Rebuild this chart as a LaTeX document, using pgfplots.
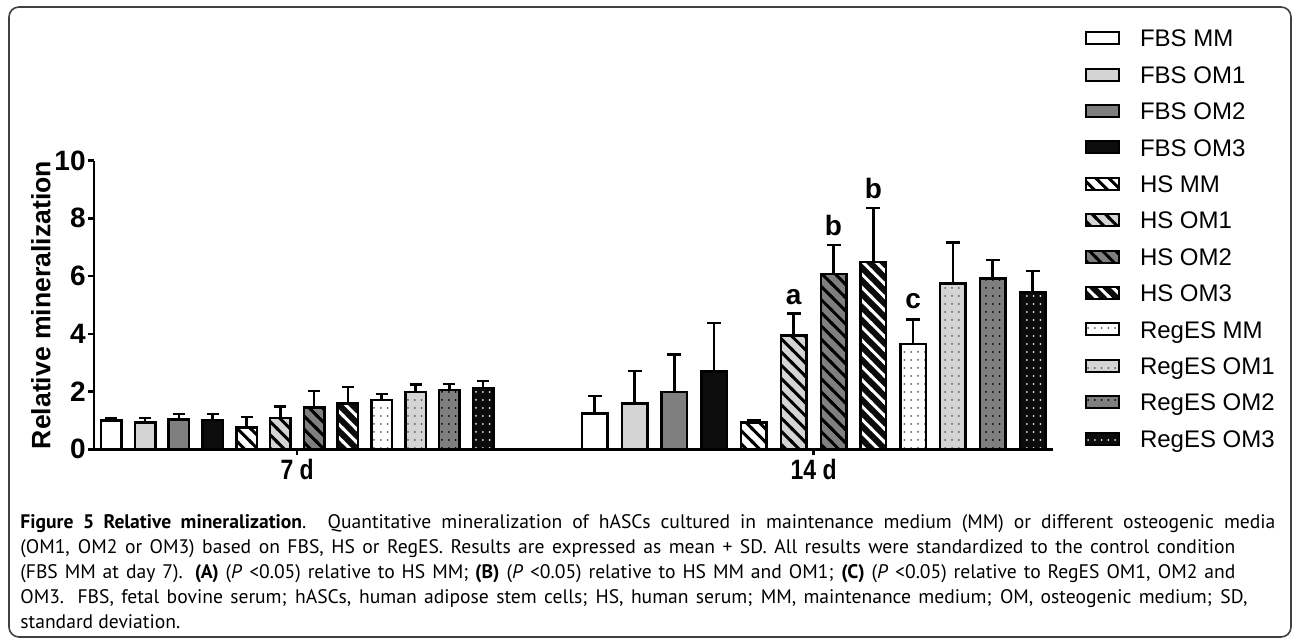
\documentclass[border=0pt]{standalone}
\usepackage{fontspec}
\setmainfont{Liberation Sans}
\newfontfamily\capfont{PT Sans}
\newfontfamily\narrowfont[FakeStretch=0.82]{Liberation Sans}
\usepackage{pgfplots}
\pgfplotsset{compat=1.18}
\usetikzlibrary{patterns}

\definecolor{lgray}{HTML}{D4D4D4}
\definecolor{mgray}{HTML}{7F7F7F}
\definecolor{dgray}{HTML}{0C0C0C}
\definecolor{dotgray}{HTML}{5A5A5A}
\definecolor{dotlight}{HTML}{E8E8E8}

% diagonal stripes, top left to bottom right
\pgfdeclarepatternformonly{hatch}{\pgfqpoint{-1pt}{-1pt}}{\pgfqpoint{7.6pt}{7.6pt}}{\pgfqpoint{6.6pt}{6.6pt}}{%
  \pgfsetlinewidth{1.5pt}%
  \pgfpathmoveto{\pgfqpoint{-1pt}{7.6pt}}%
  \pgfpathlineto{\pgfqpoint{7.6pt}{-1pt}}%
  \pgfusepath{stroke}}
% sparse dots
\pgfdeclarepatternformonly{regdots}{\pgfqpoint{-1pt}{-1pt}}{\pgfqpoint{1pt}{1pt}}{\pgfqpoint{3.4pt}{4pt}}{%
  \pgfpathcircle{\pgfqpoint{0pt}{0pt}}{0.5pt}%
  \pgfusepath{fill}}

\pgfplotsset{
  barbase/.style={ybar, bar shift=0pt, draw=black, line width=1.25pt},
  % second pass over a bar: pattern only
  over/.style 2 args={ybar, bar shift=0pt, forget plot, draw=black, line width=1.25pt,
    pattern=#1, pattern color=#2},
  fbsmm/.style={barbase, fill=white},
  fbsom1/.style={barbase, fill=lgray},
  fbsom2/.style={barbase, fill=mgray},
  fbsom3/.style={barbase, fill=dgray},
  w7/.style={bar width=20.5},
  w14/.style={bar width=25.5},
  d7/.style={w7, error bars/.cd, y dir=plus, y explicit,
    error bar style={line width=1.25pt, black},
    error mark options={rotate=90, mark size=3pt, line width=1.25pt, black}},
  d14/.style={w14, error bars/.cd, y dir=plus, y explicit,
    error bar style={line width=1.25pt, black},
    error mark options={rotate=90, mark size=3.5pt, line width=1.25pt, black}},
  % legend swatches as short horizontal bars
  lbase/.style={xbar, bar shift=0pt, bar width=6pt, draw=black, line width=1pt},
  lover/.style 2 args={xbar, bar shift=0pt, bar width=6pt, draw=black, line width=1pt,
    pattern=#1, pattern color=#2},
}

\begin{document}
\begin{tikzpicture}
\useasboundingbox (0,0) rectangle (647.5pt,320pt);
\draw[rounded corners=5pt, line width=0.8pt, black!75] (4.5pt,1.5pt) rectangle (645.5pt,316.5pt);

\begin{axis}[
  at={(47pt,95.35pt)}, anchor=south west,
  scale only axis, width=479.5pt, height=144.35pt,
  xmin=94, xmax=1053, ymin=0, ymax=10,
  clip=false,
  axis lines*=left, axis line style={-, line width=1.25pt, black},
  tick style={line width=1.25pt, black},
  tick align=outside, major tick length=3pt,
  ytick={0,2,4,6,8,10},
  xtick={297.2,813.6}, xticklabels={7 d,14 d},
  /pgf/number format/assume math mode=true,
  yticklabel style={font=\bfseries\fontsize{14}{14}\selectfont, inner sep=1pt},
  xticklabel style={font=\narrowfont\bfseries\fontsize{14}{14}\selectfont, inner sep=2pt},
  ylabel={Relative mineralization},
  every axis y label/.style={at={(axis description cs:-0.0553,0.5)}, rotate=90, anchor=center,
    font=\bfseries\fontsize{13.3}{13.3}\selectfont},
]
% day 7
\addplot[fbsmm, d7] coordinates {(111.3,1.00) +- (0,0.08)};
\addplot[fbsom1, d7] coordinates {(145.1,0.93) +- (0,0.15)};
\addplot[fbsom2, d7] coordinates {(178.9,1.04) +- (0,0.18)};
\addplot[fbsom3, d7] coordinates {(212.7,1.01) +- (0,0.21)};
\addplot[fbsmm, d7] coordinates {(246.5,0.75) +- (0,0.37)};
\addplot[fbsom1, d7] coordinates {(280.3,1.08) +- (0,0.40)};
\addplot[fbsom2, d7] coordinates {(314.1,1.45) +- (0,0.57)};
\addplot[fbsom3, d7] coordinates {(347.9,1.59) +- (0,0.56)};
\addplot[fbsmm, d7] coordinates {(381.7,1.70) +- (0,0.21)};
\addplot[fbsom1, d7] coordinates {(415.5,1.99) +- (0,0.25)};
\addplot[fbsom2, d7] coordinates {(449.3,2.06) +- (0,0.21)};
\addplot[fbsom3, d7] coordinates {(483.1,2.13) +- (0,0.24)};
% day 14
\addplot[fbsmm, d14] coordinates {(594.7,1.24) +- (0,0.60)};
\addplot[fbsom1, d14] coordinates {(634.5,1.58) +- (0,1.13)};
\addplot[fbsom2, d14] coordinates {(674.3,1.98) +- (0,1.30)};
\addplot[fbsom3, d14] coordinates {(714.1,2.70) +- (0,1.68)};
\addplot[fbsmm, d14] coordinates {(753.9,0.92) +- (0,0.10)};
\addplot[fbsom1, d14] coordinates {(793.7,3.94) +- (0,0.77)};
\addplot[fbsom2, d14] coordinates {(833.5,6.08) +- (0,1.00)};
\addplot[fbsom3, d14] coordinates {(873.3,6.49) +- (0,1.87)};
\addplot[fbsmm, d14] coordinates {(913.1,3.65) +- (0,0.85)};
\addplot[fbsom1, d14] coordinates {(952.9,5.74) +- (0,1.42)};
\addplot[fbsom2, d14] coordinates {(992.7,5.92) +- (0,0.63)};
\addplot[fbsom3, d14] coordinates {(1032.5,5.43) +- (0,0.74)};

% pattern passes for HS (stripes) and RegES (dots), same values
\addplot[over={hatch}{black}, w7] coordinates {(246.5,0.75)};
\addplot[over={hatch}{black}, w7] coordinates {(280.3,1.08)};
\addplot[over={hatch}{black}, w7] coordinates {(314.1,1.45)};
\addplot[over={hatch}{white}, w7] coordinates {(347.9,1.59)};
\addplot[over={regdots}{dotgray}, w7] coordinates {(381.7,1.70)};
\addplot[over={regdots}{dotgray}, w7] coordinates {(415.5,1.99)};
\addplot[over={regdots}{black}, w7] coordinates {(449.3,2.06)};
\addplot[over={regdots}{dotlight}, w7] coordinates {(483.1,2.13)};
\addplot[over={hatch}{black}, w14] coordinates {(753.9,0.92)};
\addplot[over={hatch}{black}, w14] coordinates {(793.7,3.94)};
\addplot[over={hatch}{black}, w14] coordinates {(833.5,6.08)};
\addplot[over={hatch}{white}, w14] coordinates {(873.3,6.49)};
\addplot[over={regdots}{dotgray}, w14] coordinates {(913.1,3.65)};
\addplot[over={regdots}{dotgray}, w14] coordinates {(952.9,5.74)};
\addplot[over={regdots}{black}, w14] coordinates {(992.7,5.92)};
\addplot[over={regdots}{dotlight}, w14] coordinates {(1032.5,5.43)};

\node[font=\bfseries\fontsize{14}{14}\selectfont, anchor=base] at (axis cs:793.7,5.03) {a};
\node[font=\bfseries\fontsize{14}{14}\selectfont, anchor=base] at (axis cs:833.5,7.42) {b};
\node[font=\bfseries\fontsize{14}{14}\selectfont, anchor=base] at (axis cs:873.3,8.69) {b};
\node[font=\bfseries\fontsize{14}{14}\selectfont, anchor=base] at (axis cs:913.1,4.88) {c};
\end{axis}

% legend: one short bar per condition, name beside it
\begin{axis}[
  at={(543pt,91.55pt)}, anchor=south west,
  scale only axis, width=16.5pt, height=218.4pt,
  xmin=0, xmax=1, ymin=0.5, ymax=12.5, y dir=reverse,
  hide axis, clip=false,
  every node near coord/.append style={anchor=west, inner sep=0pt, xshift=10pt,
    text height=8.6pt, text depth=0pt, font=\fontsize{12}{12}\selectfont, text=black},
]
\addplot[lbase, fill=white, nodes near coords={FBS MM}] coordinates {(1,1)};
\addplot[lbase, fill=lgray, nodes near coords={FBS OM1}] coordinates {(1,2)};
\addplot[lbase, fill=mgray, nodes near coords={FBS OM2}] coordinates {(1,3)};
\addplot[lbase, fill=dgray, nodes near coords={FBS OM3}] coordinates {(1,4)};
\addplot[lbase, fill=white, nodes near coords={HS MM}] coordinates {(1,5)};
\addplot[lbase, fill=lgray, nodes near coords={HS OM1}] coordinates {(1,6)};
\addplot[lbase, fill=mgray, nodes near coords={HS OM2}] coordinates {(1,7)};
\addplot[lbase, fill=dgray, nodes near coords={HS OM3}] coordinates {(1,8)};
\addplot[lbase, fill=white, nodes near coords={RegES MM}] coordinates {(1,9)};
\addplot[lbase, fill=lgray, nodes near coords={RegES OM1}] coordinates {(1,10)};
\addplot[lbase, fill=mgray, nodes near coords={RegES OM2}] coordinates {(1,11)};
\addplot[lbase, fill=dgray, nodes near coords={RegES OM3}] coordinates {(1,12)};
\addplot[lover={hatch}{black}] coordinates {(1,5)};
\addplot[lover={hatch}{black}] coordinates {(1,6)};
\addplot[lover={hatch}{black}] coordinates {(1,7)};
\addplot[lover={hatch}{white}] coordinates {(1,8)};
\addplot[lover={regdots}{dotgray}] coordinates {(1,9)};
\addplot[lover={regdots}{dotgray}] coordinates {(1,10)};
\addplot[lover={regdots}{black}] coordinates {(1,11)};
\addplot[lover={regdots}{dotlight}] coordinates {(1,12)};
\end{axis}

\node[anchor=north west, inner sep=0pt, align=left, font=\capfont\fontsize{9.8}{12.5}\selectfont]
  at (10pt,63pt) {%
  \makebox[627.5pt][s]{\textbf{Figure 5 Relative mineralization}. Quantitative mineralization of hASCs cultured in maintenance medium (MM) or different osteogenic media}\\
  \makebox[607.5pt][s]{(OM1, OM2 or OM3) based on FBS, HS or RegES. Results are expressed as mean + SD. All results were standardized to the control condition}\\
  \makebox[607.5pt][s]{(FBS MM at day 7). \textbf{(A)} (\textit{P} <0.05) relative to HS MM; \textbf{(B)} (\textit{P} <0.05) relative to HS MM and OM1; \textbf{(C)} (\textit{P} <0.05) relative to RegES OM1, OM2 and}\\
  \makebox[613.5pt][s]{OM3. FBS, fetal bovine serum; hASCs, human adipose stem cells; HS, human serum; MM, maintenance medium; OM, osteogenic medium; SD,}\\
  standard deviation.};
\end{tikzpicture}
\end{document}
